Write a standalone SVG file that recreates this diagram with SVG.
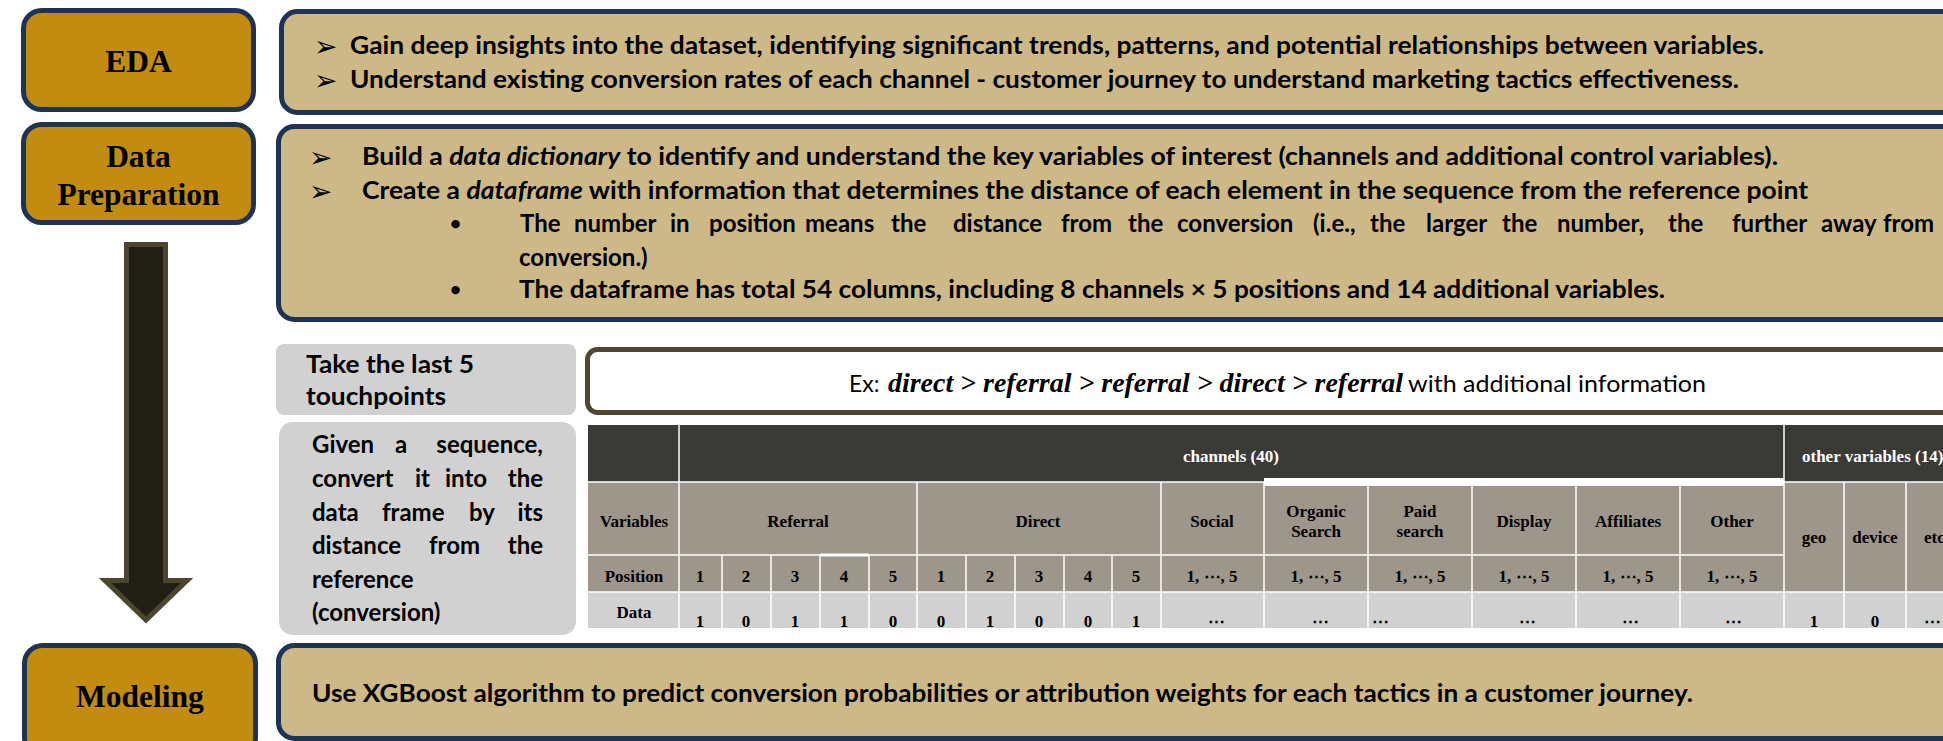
<svg xmlns="http://www.w3.org/2000/svg" width="1943" height="741" viewBox="0 0 1943 741">
<style>
.lblbox{fill:#c18c10;stroke:#1f3352;stroke-width:5}
.cbox{fill:#cdb888;stroke:#1f3352;stroke-width:5}
.gbox{fill:#d1d1d1}
.lbl{font-family:"Liberation Serif",serif;font-weight:bold;font-size:31.5px;text-anchor:middle;fill:#000}
.t{font-family:Lato,"Liberation Sans",sans-serif;font-weight:bold;font-size:24px;fill:#000}
.bu{font-family:Lato,"Liberation Sans",sans-serif;font-weight:bold;font-size:19px;fill:#000}
.ar{font-family:"DejaVu Sans",sans-serif;font-size:28px;fill:#000}
.it{font-style:italic}
.exr{font-family:Lato,"Liberation Sans",sans-serif;font-size:23px;fill:#000}
.exi{font-family:"Liberation Serif",serif;font-style:italic;font-weight:bold;font-size:27px;fill:#000}
.tb{font-family:"Liberation Serif","DejaVu Serif",serif;font-weight:bold;font-size:17px;text-anchor:middle;fill:#000}
.tw{fill:#fff}
.st{text-anchor:start}
.gl{stroke:#fff;stroke-width:1.5}
</style>

<g id="eda-label">
<rect class="lblbox" x="23.5" y="10.5" width="230" height="99" rx="18"/>
<text class="lbl" x="138.5" y="72">EDA</text>
</g>
<g id="eda-content">
<rect class="cbox" x="281.5" y="11.5" width="1700" height="101" rx="16"/>
<text class="ar" x="314" y="56">➢</text>
<text class="t" x="350" y="54" textLength="1414" lengthAdjust="spacingAndGlyphs">Gain deep insights into the dataset, identifying significant trends, patterns, and potential relationships between variables.</text>
<text class="ar" x="314" y="90">➢</text>
<text class="t" x="350" y="88" textLength="1389" lengthAdjust="spacingAndGlyphs">Understand existing conversion rates of each channel - customer journey to understand marketing tactics effectiveness.</text>
</g>

<g id="dataprep-label">
<rect class="lblbox" x="23.5" y="124.5" width="230" height="98" rx="18"/>
<text class="lbl" x="138.5" y="167">Data</text>
<text class="lbl" x="138.5" y="205">Preparation</text>
</g>
<g id="dataprep-content">
<rect class="cbox" x="278.5" y="126.5" width="1700" height="193" rx="16"/>
<text class="ar" x="309" y="167">➢</text>
<text class="t" x="362" y="165" textLength="1416" lengthAdjust="spacingAndGlyphs">Build a <tspan class="it">data dictionary</tspan> to identify and understand the key variables of interest (channels and additional control variables).</text>
<text class="ar" x="309" y="201">➢</text>
<text class="t" x="362" y="199" textLength="1446" lengthAdjust="spacingAndGlyphs">Create a <tspan class="it">dataframe</tspan> with information that determines the distance of each element in the sequence from the reference point</text>
<text class="bu" x="450" y="230">•</text>
<text class="t" y="232"><tspan x="520">The</tspan><tspan x="574">number</tspan><tspan x="670">in</tspan><tspan x="709">position</tspan><tspan x="805">means</tspan><tspan x="891">the</tspan><tspan x="953">distance</tspan><tspan x="1061">from</tspan><tspan x="1128">the</tspan><tspan x="1177">conversion</tspan><tspan x="1313">(i.e.,</tspan><tspan x="1370">the</tspan><tspan x="1426">larger</tspan><tspan x="1502">the</tspan><tspan x="1557">number,</tspan><tspan x="1668">the</tspan><tspan x="1732">further</tspan><tspan x="1821">away</tspan><tspan x="1883">from</tspan></text>
<text class="t" x="519" y="266">conversion.)</text>
<text class="bu" x="450" y="296">•</text>
<text class="t" x="519" y="298" textLength="1146" lengthAdjust="spacingAndGlyphs">The dataframe has total 54 columns, including 8 channels × 5 positions and 14 additional variables.</text>
</g>

<g id="flow-arrow">
<polygon points="126.5,244.5 165.5,244.5 165.5,580.5 187,580.5 146,620 105,580.5 126.5,580.5" fill="#211f14" stroke="#4c4530" stroke-width="5"/>
</g>

<g id="take-box">
<rect class="gbox" x="276" y="344" width="300" height="71" rx="8"/>
<text class="t" x="306" y="373" textLength="168" lengthAdjust="spacingAndGlyphs">Take the last 5</text>
<text class="t" x="306" y="405" textLength="140" lengthAdjust="spacingAndGlyphs">touchpoints</text>
</g>

<g id="given-box">
<rect class="gbox" x="279" y="422" width="297" height="213" rx="14"/>
<text class="t" y="453"><tspan x="312">Given</tspan><tspan x="395">a</tspan><tspan x="543" text-anchor="end">sequence,</tspan></text>
<text class="t" y="487"><tspan x="312">convert</tspan><tspan x="415">it</tspan><tspan x="445">into</tspan><tspan x="543" text-anchor="end">the</tspan></text>
<text class="t" y="521"><tspan x="312">data</tspan><tspan x="382">frame</tspan><tspan x="469">by</tspan><tspan x="543" text-anchor="end">its</tspan></text>
<text class="t" y="554"><tspan x="312">distance</tspan><tspan x="429">from</tspan><tspan x="543" text-anchor="end">the</tspan></text>
<text class="t" x="312" y="588">reference</text>
<text class="t" x="312" y="621">(conversion)</text>
</g>

<g id="example-box">
<rect x="587.5" y="349.5" width="1400" height="63" rx="10" fill="#fff" stroke="#4f4830" stroke-width="5"/>
<text y="392"><tspan class="exr" x="849">Ex:</tspan><tspan class="exi" x="888" textLength="515" lengthAdjust="spacingAndGlyphs">direct &gt; referral &gt; referral &gt; direct &gt; referral</tspan><tspan class="exr" x="1408" textLength="298" lengthAdjust="spacingAndGlyphs">with additional information</tspan></text>
</g>

<g id="table">
<rect x="588" y="425" width="1372" height="57" fill="#3a3b37"/>
<rect x="588" y="482" width="1372" height="110" fill="#9d968b"/>
<rect x="588" y="592" width="1372" height="36" fill="#d1d1d1"/>
<rect x="1264" y="478" width="520" height="8" fill="#fff"/>
<g class="gl">
<line x1="679" y1="425" x2="679" y2="628"/>
<line x1="1784" y1="425" x2="1784" y2="628"/>
<line x1="588" y1="482" x2="1264" y2="482"/>
<line x1="1784" y1="482" x2="1960" y2="482"/>
<line x1="588" y1="555" x2="1784" y2="555"/>
<line x1="588" y1="592" x2="1960" y2="592"/>
<line x1="917" y1="482" x2="917" y2="628"/>
<line x1="1161" y1="482" x2="1161" y2="628"/>
<line x1="1264" y1="482" x2="1264" y2="628"/>
<line x1="1368" y1="482" x2="1368" y2="628"/>
<line x1="1472" y1="482" x2="1472" y2="628"/>
<line x1="1576" y1="482" x2="1576" y2="628"/>
<line x1="1680" y1="482" x2="1680" y2="628"/>
<line x1="1844" y1="482" x2="1844" y2="628"/>
<line x1="1906" y1="482" x2="1906" y2="628"/>
<line x1="722" y1="555" x2="722" y2="628"/>
<line x1="771" y1="555" x2="771" y2="628"/>
<line x1="820" y1="555" x2="820" y2="628"/>
<line x1="869" y1="555" x2="869" y2="628"/>
<line x1="966" y1="555" x2="966" y2="628"/>
<line x1="1015" y1="555" x2="1015" y2="628"/>
<line x1="1064" y1="555" x2="1064" y2="628"/>
<line x1="1112" y1="555" x2="1112" y2="628"/>
<line x1="820" y1="555" x2="869" y2="555" stroke-width="3"/>
</g>
<text class="tb tw" x="1231" y="462">channels (40)</text>
<text class="tb tw st" x="1802" y="462">other variables (14)</text>
<text class="tb" x="634" y="527">Variables</text>
<text class="tb" x="798" y="527">Referral</text>
<text class="tb" x="1038" y="527">Direct</text>
<text class="tb" x="1212" y="527">Social</text>
<text class="tb" x="1316" y="517">Organic</text>
<text class="tb" x="1316" y="537">Search</text>
<text class="tb" x="1420" y="517">Paid</text>
<text class="tb" x="1420" y="537">search</text>
<text class="tb" x="1524" y="527">Display</text>
<text class="tb" x="1628" y="527">Affiliates</text>
<text class="tb" x="1732" y="527">Other</text>
<text class="tb" x="1814" y="543">geo</text>
<text class="tb" x="1875" y="543">device</text>
<text class="tb st" x="1924" y="543">etc</text>
<text class="tb" x="634" y="582">Position</text>
<text class="tb" x="700" y="582">1</text>
<text class="tb" x="746" y="582">2</text>
<text class="tb" x="795" y="582">3</text>
<text class="tb" x="844" y="582">4</text>
<text class="tb" x="893" y="582">5</text>
<text class="tb" x="941" y="582">1</text>
<text class="tb" x="990" y="582">2</text>
<text class="tb" x="1039" y="582">3</text>
<text class="tb" x="1088" y="582">4</text>
<text class="tb" x="1136" y="582">5</text>
<text class="tb" x="1212" y="582">1, ⋯, 5</text>
<text class="tb" x="1316" y="582">1, ⋯, 5</text>
<text class="tb" x="1420" y="582">1, ⋯, 5</text>
<text class="tb" x="1524" y="582">1, ⋯, 5</text>
<text class="tb" x="1628" y="582">1, ⋯, 5</text>
<text class="tb" x="1732" y="582">1, ⋯, 5</text>
<text class="tb" x="634" y="618">Data</text>
<text class="tb" x="700" y="627">1</text>
<text class="tb" x="746" y="627">0</text>
<text class="tb" x="795" y="627">1</text>
<text class="tb" x="844" y="627">1</text>
<text class="tb" x="893" y="627">0</text>
<text class="tb" x="941" y="627">0</text>
<text class="tb" x="990" y="627">1</text>
<text class="tb" x="1039" y="627">0</text>
<text class="tb" x="1088" y="627">0</text>
<text class="tb" x="1136" y="627">1</text>
<text class="tb" x="1216" y="627">⋯</text>
<text class="tb" x="1320" y="627">⋯</text>
<text class="tb st" x="1372" y="627">⋯</text>
<text class="tb" x="1527" y="627">⋯</text>
<text class="tb" x="1630" y="627">⋯</text>
<text class="tb" x="1733" y="627">⋯</text>
<text class="tb" x="1814" y="627">1</text>
<text class="tb" x="1875" y="627">0</text>
<text class="tb st" x="1924" y="627">⋯</text>
</g>

<g id="modeling-label">
<rect class="lblbox" x="24.5" y="645.5" width="231" height="110" rx="18"/>
<text class="lbl" x="140" y="707">Modeling</text>
</g>
<g id="modeling-content">
<rect class="cbox" x="278.5" y="645.5" width="1700" height="93" rx="16"/>
<text class="t" x="312" y="702" textLength="1381" lengthAdjust="spacingAndGlyphs">Use XGBoost algorithm to predict conversion probabilities or attribution weights for each tactics in a customer journey.</text>
</g>

<g id="connectors"></g>
</svg>
